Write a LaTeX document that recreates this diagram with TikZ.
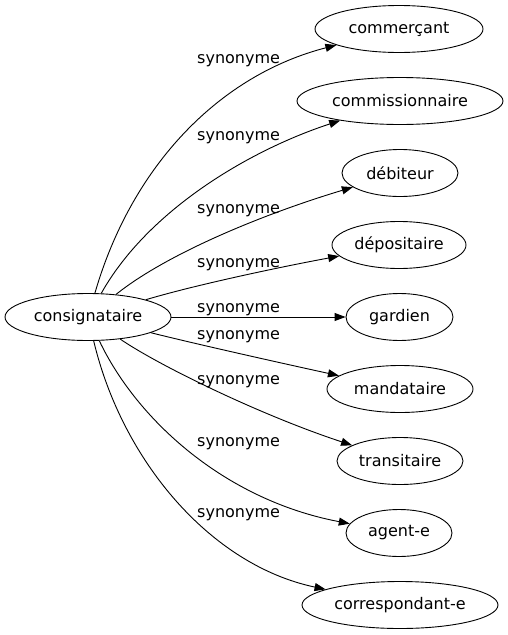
\documentclass[tikz,border=0pt]{standalone}
\usepackage{fontspec}
\setmainfont{DejaVu Sans}
\usetikzlibrary{arrows.meta,shapes.geometric}
\begin{document}
\begin{tikzpicture}[x=1pt,y=-1pt,
  term/.style={draw,ellipse,line width=0.9pt,inner sep=0pt,minimum height=47pt,font=\fontsize{16}{18}\selectfont},
  syn/.style={anchor=base west,inner sep=0pt,font=\fontsize{16}{18}\selectfont},
  rel/.style={line width=0.9pt,-{Triangle[length=11pt,width=8pt]}}]
\useasboundingbox (0,0) rectangle (507,635);
\node[term,minimum width=166pt] (c) at (88,317) {consignataire};
\node[term,minimum width=168pt] (n1) at (399,29) {commerçant};
\node[term,minimum width=206pt] (n2) at (400,101) {commissionnaire};
\node[term,minimum width=116pt] (n3) at (400,173) {débiteur};
\node[term,minimum width=134pt] (n4) at (399,245) {dépositaire};
\node[term,minimum width=107pt] (n5) at (399.5,317) {gardien};
\node[term,minimum width=146pt] (n6) at (400,389) {mandataire};
\node[term,minimum width=126pt] (n7) at (400,461) {transitaire};
\node[term,minimum width=106pt] (n8) at (399,533) {agent-e};
\node[term,minimum width=196pt] (n9) at (400,605) {correspondant-e};
\draw[rel] (c) .. controls (132,165) and (220,75) .. (n1);
\draw[rel] (c) .. controls (148,210) and (250,150) .. (n2);
\draw[rel] (c) .. controls (165,255) and (260,215) .. (n3);
\draw[rel] (c) .. controls (195,285) and (280,267) .. (n4);
\draw[rel] (c) -- (n5);
\draw[rel] (c) .. controls (200,345) and (290,365) .. (n6);
\draw[rel] (c) .. controls (158,365) and (260,415) .. (n7);
\draw[rel] (c) .. controls (137,420) and (225,500) .. (n8);
\draw[rel] (c) .. controls (122,460) and (210,565) .. (n9);
\node[syn] (l1) at (197,63) {synonyme};
\node[syn] (l2) at (197,140) {synonyme};
\node[syn] (l3) at (197,213) {synonyme};
\node[syn] (l4) at (197,267) {synonyme};
\node[syn] (l5) at (197,312) {synonyme};
\node[syn] (l6) at (197,339) {synonyme};
\node[syn] (l7) at (197,384) {synonyme};
\node[syn] (l8) at (197,446) {synonyme};
\node[syn] (l9) at (197,517) {synonyme};
\end{tikzpicture}
\end{document}
